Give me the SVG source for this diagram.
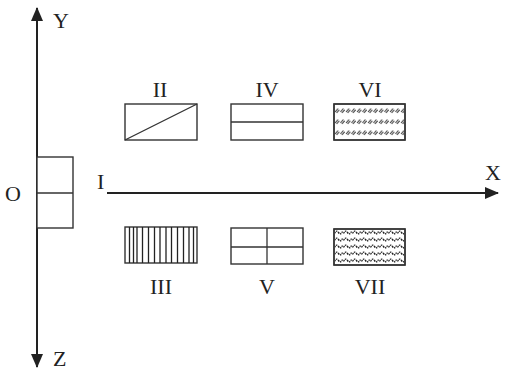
<svg xmlns="http://www.w3.org/2000/svg" width="511" height="370" viewBox="0 0 511 370">
<style>
text{font-family:"Liberation Serif","Times New Roman",serif;font-size:22px;fill:#222}
.b{fill:#fff;stroke:#333;stroke-width:1.4}
.l{stroke:#333;stroke-width:1.3;fill:none}
.ax{stroke:#222;stroke-width:2;fill:none}
</style>
<defs>
<marker id="ah" viewBox="0 0 14 12" refX="13" refY="6" markerWidth="7" markerHeight="6" orient="auto" markerUnits="strokeWidth"><path d="M0,0 L14,6 L0,12 Z" fill="#222"/></marker>
<pattern id="sl" x="334" y="106" width="5.5" height="11" patternUnits="userSpaceOnUse"><path d="M1,6 L4,2.5 M2.5,7 L5.2,3.8" stroke="#333" stroke-width="1.1"/></pattern>
<pattern id="wv" x="334" y="229" width="9" height="7" patternUnits="userSpaceOnUse"><path d="M0.5,4.5 Q2.5,0.5 4.5,3.5 Q6.5,6.5 8.5,2.5" stroke="#222" stroke-width="1.4" fill="none" stroke-dasharray="1.6,0.8"/></pattern>
</defs>
<g id="connectors">
<line class="ax" x1="37" y1="355" x2="37" y2="8" marker-end="url(#ah)"/>
<line class="ax" x1="37" y1="300" x2="37" y2="367" marker-end="url(#ah)"/>
<line class="ax" x1="107" y1="193" x2="498" y2="193" marker-end="url(#ah)"/>
</g>
<g id="labels">
<text x="53" y="28">Y</text>
<text x="53" y="366">Z</text>
<text x="485" y="180">X</text>
<text x="5" y="201">O</text>
<text x="97" y="189">I</text>
</g>
<g id="O">
<rect class="b" x="37" y="157" width="36" height="71"/>
<line class="l" x1="37" y1="193" x2="73" y2="193"/>
</g>
<g id="II">
<text x="160" y="97" text-anchor="middle">II</text>
<rect class="b" x="125" y="104" width="72" height="36"/>
<line class="l" x1="125" y1="140" x2="197" y2="104"/>
</g>
<g id="IV">
<text x="267" y="97" text-anchor="middle">IV</text>
<rect class="b" x="231" y="104" width="72" height="36"/>
<line class="l" x1="231" y1="122" x2="303" y2="122"/>
</g>
<g id="VI">
<text x="370" y="97" text-anchor="middle">VI</text>
<rect class="b" x="334" y="104" width="71" height="36"/>
<rect x="335" y="105" width="69" height="34" fill="url(#sl)"/>
<rect x="334" y="104" width="71" height="36" fill="none" stroke="#333" stroke-width="1.4"/>
</g>
<g id="III">
<rect class="b" x="125" y="227" width="72" height="36"/>
<path d="M129.5,227V263M133.5,227V263M137,227V263M142.5,227V263M148.5,227V263M154.5,227V263M160,227V263M166,227V263M171.5,227V263M177.5,227V263M183.5,227V263M189,227V263M193.5,227V263" stroke="#222" stroke-width="1.3"/>
<text x="161" y="294" text-anchor="middle">III</text>
</g>
<g id="V">
<rect class="b" x="231" y="228" width="72" height="36"/>
<line class="l" x1="231" y1="247" x2="303" y2="247"/>
<line class="l" x1="267" y1="228" x2="267" y2="264"/>
<text x="267" y="294" text-anchor="middle">V</text>
</g>
<g id="VII">
<rect class="b" x="334" y="229" width="71" height="36"/>
<rect x="335" y="230" width="69" height="34" fill="url(#wv)"/>
<rect x="334" y="229" width="71" height="36" fill="none" stroke="#333" stroke-width="1.4"/>
<text x="370" y="294" text-anchor="middle">VII</text>
</g>
</svg>
